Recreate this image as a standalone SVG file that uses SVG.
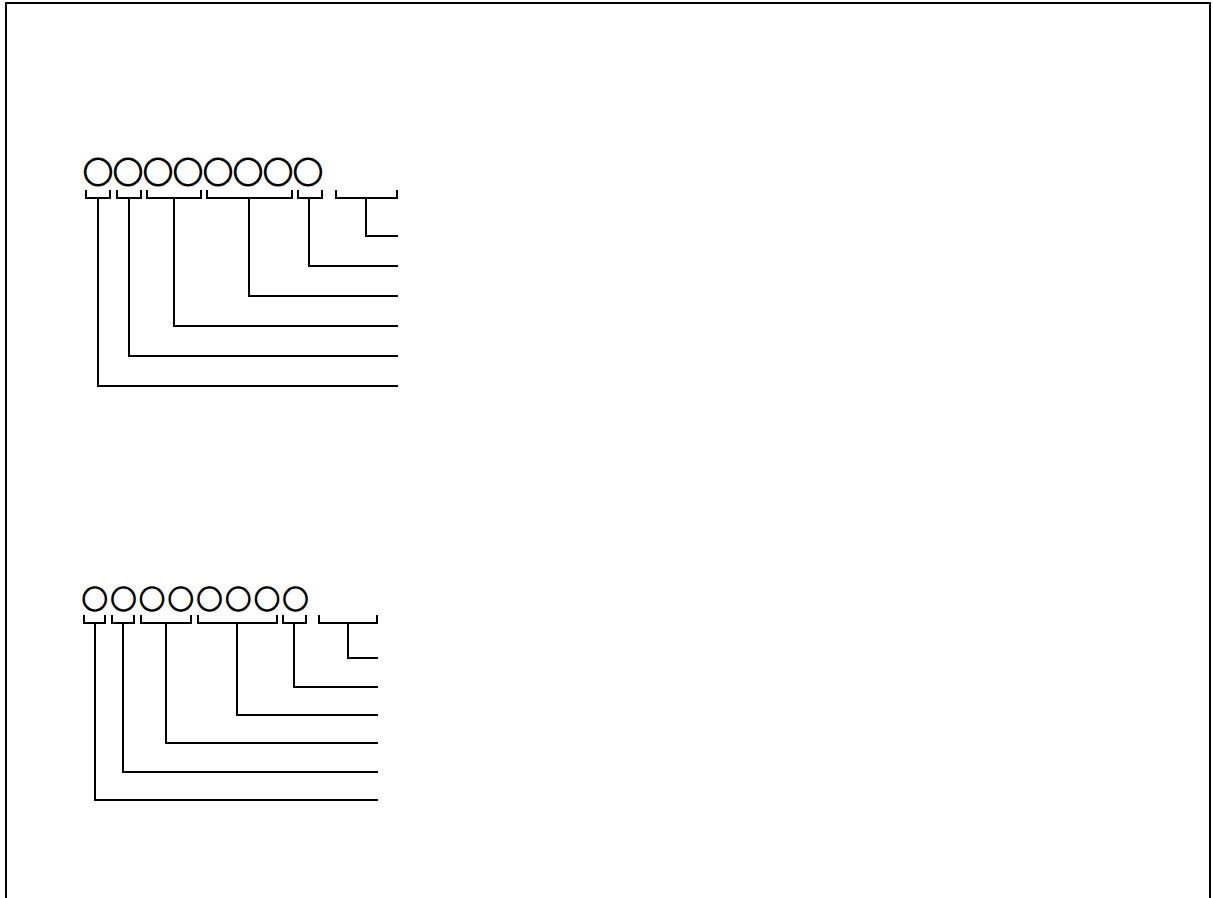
<svg xmlns="http://www.w3.org/2000/svg" width="1213" height="898" viewBox="0 0 1213 898">
<style>
.ln{fill:none;stroke:#000;stroke-width:2;stroke-linecap:square;stroke-linejoin:miter}
.mk{font-family:"Noto Sans CJK JP","DejaVu Sans",sans-serif;font-weight:700;fill:#000;stroke:#000;stroke-width:1.2}
</style>
<rect x="0" y="0" width="1213" height="898" fill="#fff"/>
<rect id="frame" class="ln" x="6" y="3" width="1204" height="920"/>
<g id="marks-top">
<text class="mk" font-size="30" x="83 113 143 173 203 233 263 293" y="182.8">○○○○○○○○</text>
</g>
<g id="marks-bottom">
<text class="mk" font-size="26" x="81.7 110.4 139.1 167.8 196.5 225.2 253.9 282.6" y="609.1">○○○○○○○○</text>
</g>
<g id="connectors">
<path class="ln" d="M86 191V198H110V191M117 191V198H141V191M147 191V198H201V191M207 191V198H292V191M298 191V198H322V191M336 191V198H397V191"/>
<path class="ln" d="M366 198V236H397M309 198V266H397M249 198V296H397M174 198V326H397M129 198V356H397M98 198V386H397"/>
<path class="ln" d="M84 616V623H105V616M112 616V623H134V616M141 616V623H191V616M198 616V623H277V616M283 616V623H306V616M319 616V623H377V616"/>
<path class="ln" d="M348 623V658H377M294 623V687H377M237 623V715H377M166 623V743H377M123 623V772H377M95 623V800H377"/>
</g>
</svg>
